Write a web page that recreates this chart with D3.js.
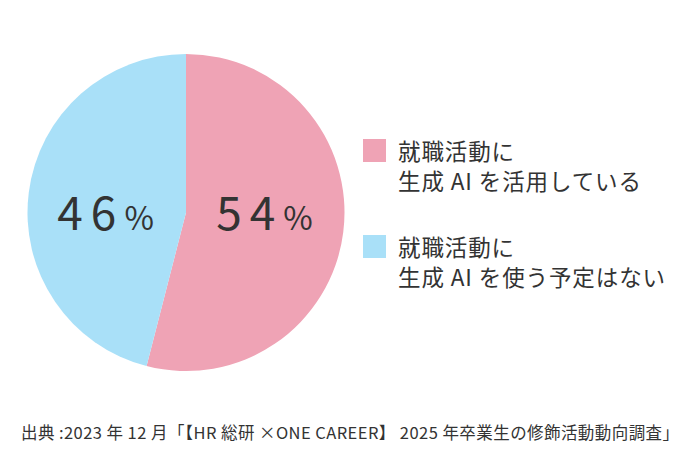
<!DOCTYPE html>
<html><head><meta charset="utf-8">
<script src="https://cdn.jsdelivr.net/npm/d3@7"></script>
<style>
html,body{margin:0;padding:0;background:#fff;}
svg{display:block;font-family:"Noto Sans CJK JP","Noto Sans",sans-serif;}
</style></head>
<body>
<svg id="chart" width="700" height="467"></svg>
<script>
const categories = ["就職活動に\n生成 AI を活用している", "就職活動に\n生成 AI を使う予定はない"];
const values = [54, 46];
const colors = ["#EFA3B5", "#A9E0F8"];
const source = "出典 :2023 年 12 月「【HR 総研 ×ONE CAREER】 2025 年卒業生の修飾活動動向調査」";

const svg = d3.select("#chart");
const cx = 186, cy = 212.5, r = 158.5;
const textColor = "#333333";

const pie = d3.pie().sort(null).value(d => d.v);
const arcs = pie(values.map((v, i) => ({v, i})));
const arc = d3.arc().innerRadius(0).outerRadius(r);
const labelArc = d3.arc().innerRadius(r * 0.505).outerRadius(r * 0.505);

const g = svg.append("g").attr("transform", `translate(${cx},${cy})`);
g.selectAll("path").data(arcs).join("path")
  .attr("d", arc)
  .attr("fill", d => colors[d.data.i]);

const lbl = g.selectAll("text.pct").data(arcs).join("text")
  .attr("class", "pct")
  .attr("x", d => labelArc.centroid(d)[0] - 1)
  .attr("y", 17.5)
  .attr("text-anchor", "middle")
  .attr("fill", textColor);
lbl.append("tspan")
  .attr("font-size", 46)
  .attr("font-weight", 400)
  .attr("letter-spacing", 8)
  .text(d => d.data.v);
lbl.append("tspan")
  .attr("font-size", 32)
  .attr("font-weight", 400)
  .text("%");

// Legend
const legend = svg.append("g");
const legY = [139, 235];
categories.forEach((c, i) => {
  const lg = legend.append("g").attr("transform", `translate(363,${legY[i]})`);
  lg.append("rect").attr("width", 23).attr("height", 23).attr("fill", colors[i]);
  const t = lg.append("text").attr("fill", textColor).attr("font-size", 22.5)
    .attr("letter-spacing", 0.9);
  c.split("\n").forEach((line, j) => {
    t.append("tspan").attr("x", 35).attr("y", 21 + j * 29.5).text(line);
  });
});

svg.append("text")
  .attr("x", 21).attr("y", 439)
  .attr("font-size", 16.5)
  .attr("font-weight", 400)
  .attr("fill", textColor)
  .attr("textLength", 658)
  .attr("lengthAdjust", "spacing")
  .text(source);
</script>
</body></html>
